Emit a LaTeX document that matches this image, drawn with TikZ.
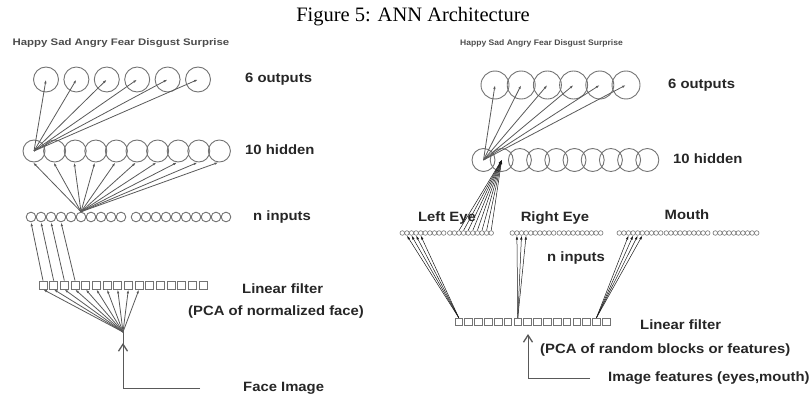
\documentclass[tikz,border=0pt]{standalone}
\usepackage{fontspec}
\setmainfont{Liberation Serif}
\newfontfamily\lblsans{Liberation Sans}
\usetikzlibrary{arrows.meta,calc}
\newcommand{\myscl}[2][1.1]{\scalebox{#1}[1]{#2}}
\tikzset{
  neuron/.style={circle,draw=black!55,line width=0.9pt,inner sep=0pt},
  sqbox/.style={rectangle,draw=black!55,line width=0.8pt,inner sep=0pt},
  link/.style={draw=black!65,line width=0.8pt},
  fanline/.style={draw=black!90,line width=0.5pt},
  tip/.style={-{Latex[length=4pt,width=2.4pt]}},
  bigtip/.style={-{Straight Barb[length=7pt,width=9pt,line width=1.3pt]}},
  lbl/.style={anchor=west,inner sep=0pt,text=black!85,font=\lblsans\bfseries\fontsize{13.5}{16}\selectfont},
  clbl/.style={lbl,anchor=center},
  emo/.style={inner sep=0pt,text=black!70,font=\lblsans\bfseries},
}
\begin{document}
\begin{tikzpicture}[x=1pt,y=-1pt]
\useasboundingbox (0,0) rectangle (810,398);

% title
\node[font=\fontsize{20.5}{24}\selectfont,inner sep=0pt] (title) at (413,17) {Figure 5: ANN Architecture};

% ================= LEFT NETWORK =================
\node[emo,font=\lblsans\bfseries\fontsize{9.5}{11}\selectfont] (emoL) at (121,43) {\myscl[1.2]{Happy Sad Angry Fear Disgust Surprise}};
\foreach \i in {1,...,6}
  \node[neuron,minimum size=25pt] (oL\i) at ({46+30.4*(\i-1)},79.5) {};
\foreach \i in {1,...,10}
  \node[neuron,minimum size=22pt] (hL\i) at ({34+20.6*(\i-1)},151) {};
\foreach \i in {1,...,10}
  \node[neuron,minimum size=9.6pt] (iL\i) at ({31+10*(\i-1)},217) {};
\foreach \i in {11,...,20}
  \node[neuron,minimum size=9.6pt] (iL\i) at ({136+10*(\i-11)},217) {};
\foreach \i in {1,...,16}
  \node[sqbox,minimum size=8pt] (fL\i) at ({43+10.67*(\i-1)},285) {};

\foreach \i in {1,...,6}
  \draw[link,tip] (hL1.center) -- (oL\i.center);
\foreach \i in {1,...,10}
  \draw[link,tip] (iL6.north) -- (hL\i.265);
\foreach \i in {1,...,4}
  \draw[link,tip] (fL\i.north) -- (iL\i.south);
\coordinate (fanL) at (123,332);
\foreach \i in {1,...,10}
  \draw[link,tip] (fanL) -- (fL\i.south);
\coordinate (cornerL) at (123,388);
\coordinate (tipL) at (123,343);
\coordinate (endL) at (200,388);
\draw[link,line width=1pt] (endL) -- (cornerL) -- (fanL);
\draw[link,line width=1pt,bigtip] (cornerL) -- (tipL);

\node[lbl] (outLlbl) at (245,79) {\myscl{6 outputs}};
\node[lbl] (hidLlbl) at (245,150) {\myscl{10 hidden}};
\node[lbl] (inLlbl) at (253,217) {\myscl{n inputs}};
\node[lbl] (linLlbl) at (242,289) {\myscl{Linear filter}};
\node[lbl] (pcaLlbl) at (188,312) {\myscl{(PCA of normalized face)}};
\node[lbl] (faceLlbl) at (243,388) {\myscl{Face Image}};

% ================= RIGHT NETWORK =================
\node[emo,font=\lblsans\bfseries\fontsize{8}{9}\selectfont] (emoR) at (541.5,43) {\myscl[1.07]{Happy Sad Angry Fear Disgust Surprise}};
\foreach \i in {1,...,6}
  \node[neuron,minimum size=28pt] (oR\i) at ({495+26.2*(\i-1)},85) {};
\foreach \i in {1,...,10}
  \node[neuron,minimum size=23pt] (hR\i) at ({483.5+18.2*(\i-1)},160) {};
% inputs: left eye, right eye, mouth
\foreach \i in {1,...,10} {
  \node[neuron,line width=0.6pt,minimum size=4.6pt] (le\i) at ({402.3+4.6*(\i-1)},233) {};
  \node[neuron,line width=0.6pt,minimum size=4.6pt] (re\i) at ({512.3+4.6*(\i-1)},233) {};
  \node[neuron,line width=0.6pt,minimum size=4.6pt] (mo\i) at ({619.3+4.6*(\i-1)},233) {};
}
\foreach \i in {11,...,20} {
  \node[neuron,line width=0.6pt,minimum size=4.6pt] (le\i) at ({449.8+4.6*(\i-11)},233) {};
  \node[neuron,line width=0.6pt,minimum size=4.6pt] (re\i) at ({559.3+4.6*(\i-11)},233) {};
  \node[neuron,line width=0.6pt,minimum size=4.6pt] (mo\i) at ({666.3+4.6*(\i-11)},233) {};
}
\foreach \i in {21,...,30}
  \node[neuron,line width=0.6pt,minimum size=4.6pt] (mo\i) at ({715.3+4.6*(\i-21)},233) {};
\foreach \i in {1,...,16}
  \node[sqbox,minimum size=7.6pt] (fR\i) at ({458.8+9.83*(\i-1)},322) {};

\foreach \i in {1,...,6}
  \draw[link,tip] (hR1.center) -- (oR\i.center);
\foreach \i in {13,...,20}
  \draw[fanline,tip] (le\i.north) -- (hR2.center);
\foreach \i in {2,...,5}
  \draw[fanline,tip] (fR1.north) -- (le\i.south);
\foreach \i in {2,...,4}
  \draw[fanline,tip] (fR7.north) -- (re\i.south);
\foreach \i in {3,...,6}
  \draw[fanline,tip] (fR15.north) -- (mo\i.south);
\coordinate (cornerR) at (528,378);
\coordinate (tipR) at (528,334);
\coordinate (endR) at (590,378);
\draw[link,line width=1pt] (endR) -- (cornerR);
\draw[link,line width=1pt,bigtip] (cornerR) -- (tipR);

\node[clbl] (leLbl) at (447,218) {\myscl{Left Eye}};
\node[clbl] (reLbl) at (555,218) {\myscl{Right Eye}};
\node[clbl] (moLbl) at (687,215) {\myscl{Mouth}};
\node[lbl] (outRlbl) at (668,85) {\myscl{6 outputs}};
\node[lbl] (hidRlbl) at (673,159) {\myscl{10 hidden}};
\node[lbl] (inRlbl) at (547,258) {\myscl{n inputs}};
\node[lbl] (linRlbl) at (640,325) {\myscl{Linear filter}};
\node[lbl] (pcaRlbl) at (540,350) {\myscl{(PCA of random blocks or features)}};
\node[lbl] (featRlbl) at (608,378) {\myscl{Image features (eyes,mouth)}};
\end{tikzpicture}
\end{document}
